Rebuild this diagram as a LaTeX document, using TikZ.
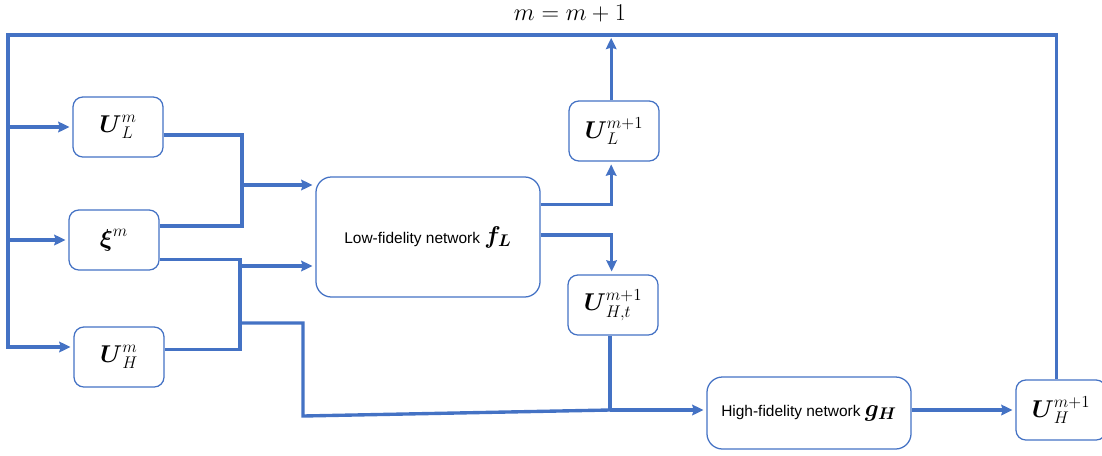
\documentclass[tikz,border=0pt]{standalone}
\usepackage{amsmath}
\usepackage{fontspec}
\setmainfont{Liberation Sans}
\usetikzlibrary{arrows.meta}
\definecolor{lineblue}{RGB}{68,114,196}
\tikzset{
  box/.style={draw=lineblue, line width=0.9pt, rounded corners=7pt, minimum width=2.25cm, minimum height=1.5cm, inner sep=1pt, font=\fontsize{18}{20}\selectfont},
  netbox/.style={box, rounded corners=11pt},
  link/.style={lineblue, line width=2.4pt},
  arr/.style={link, -{Stealth[length=8pt, width=7.5pt, inset=1pt]}, shorten >=2pt}
}
\begin{document}
\begin{tikzpicture}[x=0.025cm, y=-0.025cm]
          \useasboundingbox (0,0) rectangle (1102,455);
          \node (upd) at (570,13) {\fontsize{17}{20}\selectfont $m=m+1$};
          \node[box] (ULm) at (118,127) {$\boldsymbol{U}_{L}^{m}$};
          \node[box] (xim) at (114,240) {$\boldsymbol{\xi}^{m}$};
          \node[box] (UHm) at (119,357) {$\boldsymbol{U}_{H}^{m}$};
          \node[netbox, minimum width=5.6cm, minimum height=3.0cm] (LF) at (428,237) {\fontsize{11}{13}\selectfont Low-fidelity network {\fontsize{18}{20}\selectfont$\boldsymbol{f_L}$}};
          \node[box] (ULp) at (614,131) {$\boldsymbol{U}_{L}^{m+1}$};
          \node[box] (UHt) at (613,305) {$\boldsymbol{U}_{H,t}^{m+1}$};
          \node[netbox, minimum width=5.1cm, minimum height=1.8cm] (HF) at (809,413) {\fontsize{11}{13}\selectfont High-fidelity network {\fontsize{18}{20}\selectfont$\boldsymbol{g_H}$}};
          \node[box] (UHp) at (1061,410) {$\boldsymbol{U}_{H}^{m+1}$};
          \coordinate (tl) at (8,35);
          \coordinate (j1) at (242,185);
          \coordinate (j2) at (240,266);
          \coordinate (j3) at (240,323);
          \coordinate (j4) at (303,416);
          \coordinate (j5) at (610,410);
          \draw[arr] ([xshift=-3pt]UHp.north) |- (tl) |- ([yshift=0.25cm]UHm.west);
          \draw[arr] (tl |- ULm.west) -- (ULm.west);
          \draw[arr] (tl |- xim.west) -- (xim.west);
          \draw[link] ([yshift=-0.2cm]ULm.east) -| (j1) |- ([yshift=0.35cm]xim.east);
          \draw[arr] (j1) -- (LF.west |- j1);
          \draw[link] ([yshift=-0.48cm]xim.east) -| (j2) |- ([yshift=0.18cm]UHm.east);
          \draw[arr] (j2) -- (LF.west |- j2);
          \draw[link] (j3) -| (j4) -- (j5);
          \draw[arr] (j5) -- (HF.west |- j5);
          \draw[link] (UHt.south -| j5) -- (j5);
          \draw[arr] ([yshift=0.82cm]LF.east) -| ([xshift=-2pt]ULp.south);
          \draw[arr] ([yshift=0.05cm]LF.east) -| ([xshift=-1pt]UHt.north);
          \draw[arr] ([xshift=-2pt]ULp.north) -- ([xshift=-2pt]ULp.north |- tl);
          \draw[arr] (HF.east |- UHp.west) -- (UHp.west);
        \end{tikzpicture}
\end{document}
